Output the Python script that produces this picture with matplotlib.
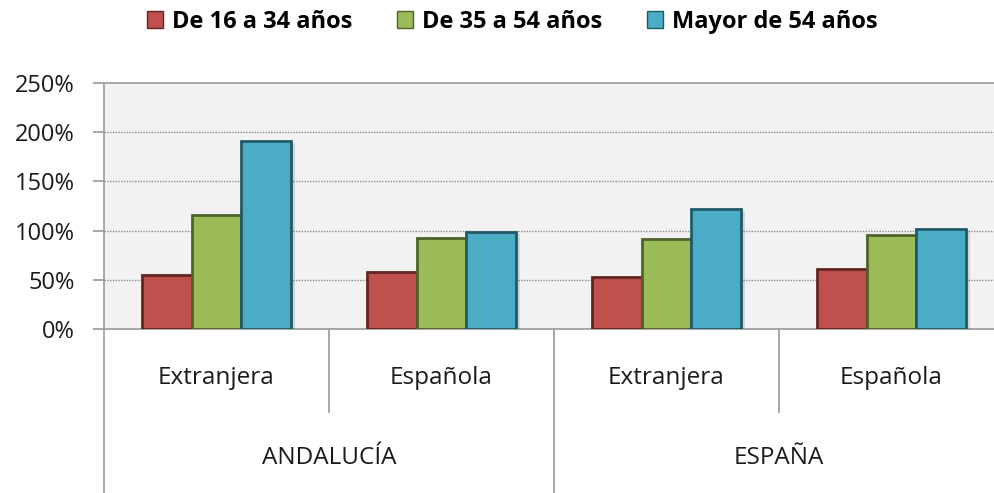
import matplotlib
matplotlib.use("Agg")
import matplotlib.pyplot as plt
import matplotlib.patheffects as pe
from matplotlib.patches import Patch
from matplotlib.ticker import FuncFormatter, MultipleLocator
import numpy as np

plt.rcParams['font.family'] = ['Open Sans', 'DejaVu Sans']

regions = ["ANDALUCÍA", "ESPAÑA"]
nationality = ["Extranjera", "Española", "Extranjera", "Española"]
series_names = ["De 16 a 34 años", "De 35 a 54 años", "Mayor de 54 años"]
young = [0.55, 0.58, 0.53, 0.61]
middle = [1.16, 0.92, 0.91, 0.96]
older = [1.91, 0.99, 1.22, 1.02]

fills = ["#C0504D", "#9BBB59", "#4BACC6"]
edges = ["#632523", "#4F6228", "#215968"]

fig = plt.figure(figsize=(9.95, 4.93), dpi=100)
ax = fig.add_axes([104 / 995, 1 - 329 / 493, 900 / 995, 246 / 493])
ax.set_facecolor("#F2F2F2")

x = np.arange(len(nationality))
w = 0.222
shadow = [pe.SimplePatchShadow(offset=(2.5, -1.5), alpha=0.12, shadow_rgbFace="#000000"), pe.Normal()]
for i, vals in enumerate([young, middle, older]):
    ax.bar(x + (i - 1) * w, vals, w, color=fills[i], edgecolor=edges[i],
           linewidth=2.0, zorder=3, path_effects=shadow)

ax.set_xlim(-0.5, 3.5)
ax.set_ylim(0, 2.5)
ax.yaxis.set_major_locator(MultipleLocator(0.5))
ax.yaxis.set_major_formatter(FuncFormatter(lambda v, p: f"{v * 100:.0f}%"))
for g in [0.5, 1.0, 1.5, 2.0]:
    ax.axhline(g, color="#8C8C8C", linestyle=(0, (1, 1)), linewidth=1.0, zorder=1)

for s in ["left", "bottom", "top"]:
    ax.spines[s].set_color("#A0A0A0")
    ax.spines[s].set_linewidth(1.3)
ax.spines["right"].set_visible(False)
ax.tick_params(axis="y", direction="out", length=8, width=1.3, color="#A0A0A0",
               labelsize=17, pad=13, labelcolor="#1a1a1a")
ax.set_xticks([])

# category axis (two levels)
trans = ax.get_xaxis_transform()
for xv, depth in [(-0.5, -0.67), (0.5, -0.337), (1.5, -0.67), (2.5, -0.337), (3.5, -0.67)]:
    ax.plot([xv, xv], [0, depth], transform=trans, color="#A0A0A0", lw=1.3, clip_on=False)
for xv, lab in zip(x, nationality):
    ax.text(xv, -0.199, lab, transform=trans, ha="center", va="center",
            fontsize=17.5, color="#1a1a1a")
for k, reg in enumerate(regions):
    ax.text(2 * k + 0.5, -0.524, reg, transform=trans, ha="center", va="center",
            fontsize=17.5, color="#1a1a1a")

handles = [Patch(facecolor=fills[i], edgecolor=edges[i], linewidth=1.0, label=series_names[i])
           for i in range(3)]
fig.legend(handles=handles, loc="center", bbox_to_anchor=(512 / 995, 1 - 22 / 493), ncol=3,
           frameon=False, prop={"weight": "bold", "size": 17}, handlelength=0.7,
           handleheight=0.7, handletextpad=0.35, columnspacing=1.9)

fig.savefig("out.png", dpi=100)
